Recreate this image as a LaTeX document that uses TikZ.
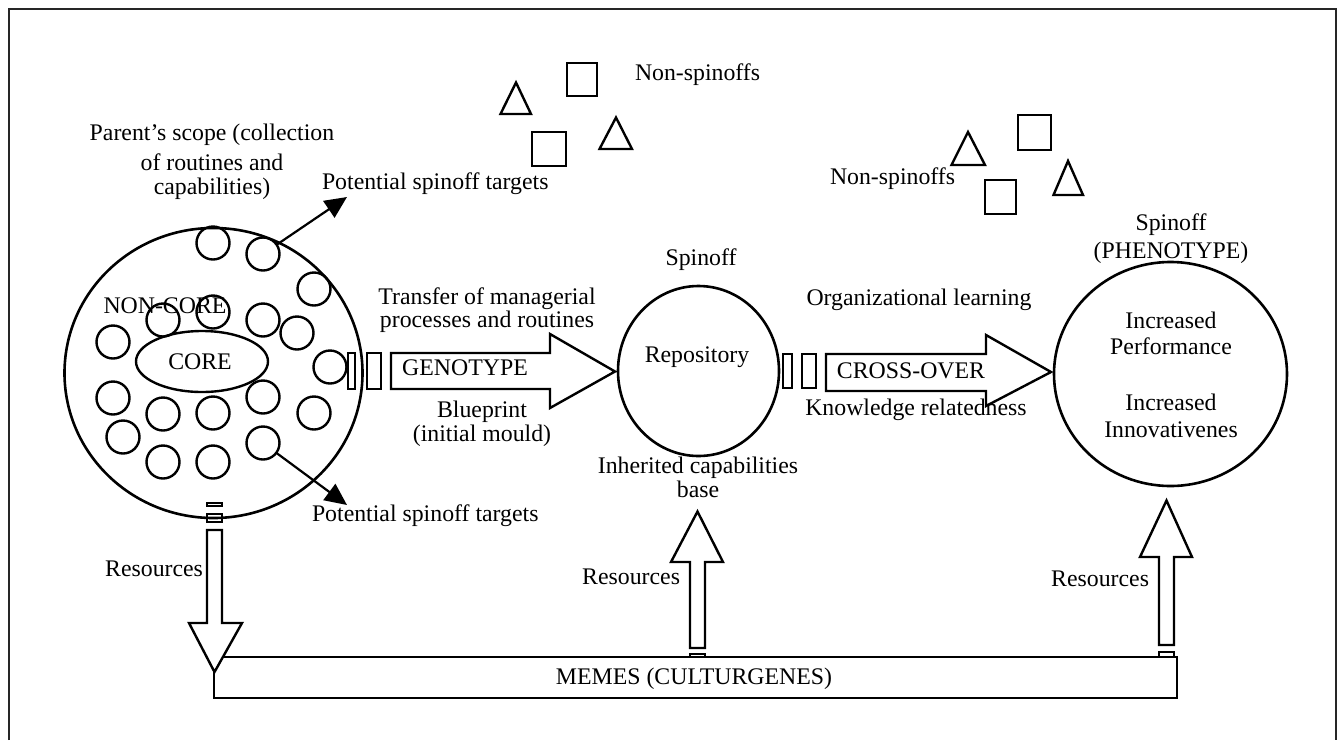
\documentclass[tikz,border=0pt]{standalone}
\usepackage{fontspec}
\setmainfont{Liberation Serif}
\usetikzlibrary{shapes.geometric,arrows.meta}
\begin{document}
\begin{tikzpicture}[x=1pt,y=-1pt,
  every node/.style={font=\fontsize{23.8}{28}\selectfont, inner sep=0pt, outer sep=0pt},
  lbl/.style={anchor=mid, yshift=-5pt},
  lblw/.style={anchor=mid west, yshift=-5pt},
  lble/.style={anchor=mid east, yshift=-5pt},
  sc/.style={draw, circle, minimum size=33pt, line width=2.4pt},
  bigc/.style={draw, ellipse, line width=2.6pt},
  blk/.style={draw, fill=white, line width=2.4pt, line join=miter},
  shp/.style={draw, line width=2.4pt, line join=miter},
  ptr/.style={line width=2.2pt, -{Triangle[length=22pt,width=20pt]}}]
\useasboundingbox (0,0) rectangle (1338,740);
% frame
\draw[line width=2pt, color=black!85] (9,740) -- (9,9) -- (1336,9) -- (1336,740);

% non-spinoff shapes (top left group)
\draw[shp] (500.5,114) -- (531,114) -- (516,82.5) -- cycle;
\draw[shp] (567,63) rectangle (597,96);
\draw[shp] (532,132) rectangle (566,166);
\draw[shp] (599.5,149) -- (632,149) -- (616,117.5) -- cycle;
\node[lblw] (ns1) at (635,73) {Non-spinoffs};
% non-spinoff shapes (right group)
\draw[shp] (951.5,165) -- (985,165) -- (968,132) -- cycle;
\draw[shp] (1018,115) rectangle (1051,150);
\draw[shp] (985,180) rectangle (1016,214);
\draw[shp] (1053.5,195) -- (1083,195) -- (1068,161) -- cycle;
\node[lblw] (ns2) at (830,177) {Non-spinoffs};

% parent scope
\node[lbl] (ps1) at (212,133) {Parent’s scope (collection};
\node[lbl] (ps2) at (212,163) {of routines and};
\node[lbl] (ps3) at (212,187) {capabilities)};

% big parent circle
\node[bigc, minimum width=298pt, minimum height=290pt] (parent) at (213.5,373) {};
\node[draw, ellipse, line width=2.4pt, minimum width=132pt, minimum height=61pt] (core) at (202,361.5) {};
\node[lbl] (coret) at (200,362) {CORE};
\node[lbl] (noncore) at (165,306) {NON-CORE};

% small circles
\node[sc] (c1) at (213,243) {};
\node[sc] (c2) at (263,254) {};
\node[sc] (c3) at (314,289) {};
\node[sc] (c4) at (163,320) {};
\node[sc] (c5) at (213,312) {};
\node[sc] (c6) at (263,320) {};
\node[sc] (c7) at (297,333) {};
\node[sc] (c8) at (113,342) {};
\node[sc] (c9) at (330,367) {};
\node[sc] (c10) at (113,398) {};
\node[sc] (c11) at (163,414) {};
\node[sc] (c12) at (213,413) {};
\node[sc] (c13) at (263,397) {};
\node[sc] (c14) at (314,413) {};
\node[sc] (c15) at (123,437) {};
\node[sc] (c16) at (263,443) {};
\node[sc] (c17) at (163,462) {};
\node[sc] (c18) at (213,462) {};

% potential spinoff targets
\coordinate (t1) at (347,197);
\coordinate (t2) at (347,505);
\draw[ptr] (c2) -- (t1);
\draw[ptr] (c16) -- (t2);
\node[lblw] (pst1) at (322,182) {Potential spinoff targets};
\node[lblw] (pst2) at (312,514) {Potential spinoff targets};

% genotype arrow
\draw[shp] (348,353) rectangle (355,389);
\draw[shp] (367,353) rectangle (381,389);
\draw[blk] (391,353) -- (550,353) -- (550,334) -- (615,371.5) -- (550,408) -- (550,389) -- (391,389) -- cycle;
\node[lbl] (geno) at (465,368) {GENOTYPE};
\node[lbl] (tr1) at (487,297) {Transfer of managerial};
\node[lbl] (tr2) at (487,320) {processes and routines};
\node[lbl] (bp1) at (482,410) {Blueprint};
\node[lbl] (bp2) at (482,434) {(initial mould)};

% middle spinoff circle
\node[bigc, minimum width=161pt, minimum height=170pt] (spin) at (698.5,371) {};
\node[lbl] (spint) at (701,258) {Spinoff};
\node[lbl] (repo) at (697,355) {Repository};
\node[lbl] (ih1) at (698,466) {Inherited capabilities};
\node[lbl] (ih2) at (698,490) {base};

% cross-over arrow
\draw[shp] (783,354) rectangle (792,388);
\draw[shp] (802,354) rectangle (816,388);
\draw[blk] (826,354) -- (986,354) -- (986,335) -- (1051,372) -- (986,406) -- (986,391) -- (826,391) -- cycle;
\node[lbl] (co) at (911,371) {CROSS-OVER};
\node[lbl] (ol) at (919,298) {Organizational learning};
\node[lbl] (kr) at (916,408) {Knowledge relatedness};

% phenotype circle
\node[bigc, minimum width=233pt, minimum height=224pt] (pheno) at (1170.5,374) {};
\node[lbl] (ph1) at (1171,223) {Spinoff};
\node[lbl] (ph2) at (1171,251) {(PHENOTYPE)};
\node[lbl] (ip1) at (1171,321) {Increased};
\node[lbl] (ip2) at (1171,347) {Performance};
\node[lbl] (ii1) at (1171,403) {Increased};
\node[lbl] (ii2) at (1171,430) {Innovativenes};

% memes bar
\draw[line width=2pt, fill=white] (214,657) rectangle (1177,698);
\node[lbl] (memes) at (694,677) {MEMES (CULTURGENES)};

% resource arrows
\draw[shp] (207,503) rectangle (222,506);
\draw[shp] (207,514) rectangle (222,522);
\draw[blk] (207,530) -- (222,530) -- (222,623) -- (242,623) -- (214.5,672) -- (189,623) -- (207,623) -- cycle;
\node[lble] (res1) at (203,569) {Resources};

\draw[shp] (690,654) rectangle (705,657);
\draw[blk] (690,648) -- (705,648) -- (705,562) -- (723,562) -- (697.5,511.5) -- (671,562) -- (690,562) -- cycle;
\node[lble] (res2) at (680,577) {Resources};

\draw[shp] (1159,652) rectangle (1174,657);
\draw[blk] (1159,645) -- (1174,645) -- (1174,557) -- (1192,557) -- (1166.5,500.5) -- (1140,557) -- (1159,557) -- cycle;
\node[lble] (res3) at (1149,579) {Resources};
\end{tikzpicture}
\end{document}
